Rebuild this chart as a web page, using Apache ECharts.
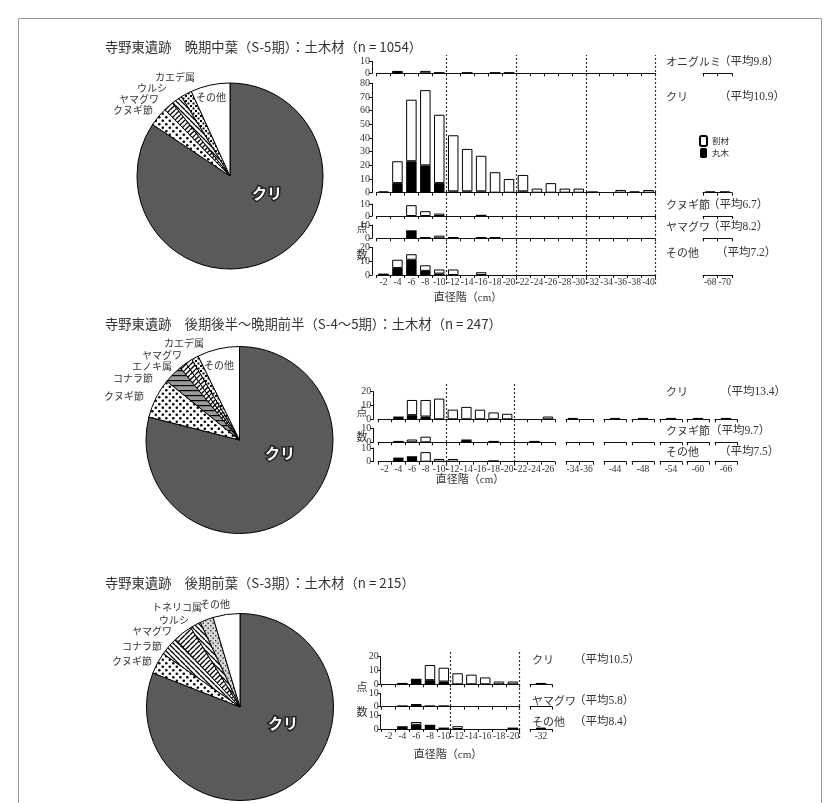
<!DOCTYPE html>
<html><head><meta charset="utf-8">
<script src="https://cdn.jsdelivr.net/npm/echarts@6/dist/echarts.min.js"></script>
<style>html,body{margin:0;padding:0;background:#fff}#c{width:840px;height:803px}</style>
</head><body><div id="c"></div>
<script>
// ================= DATA =================
const TITLES = [
  '寺野東遺跡　晩期中葉（S-5期）：土木材（n = 1054）',
  '寺野東遺跡　後期後半～晩期前半（S-4～5期）：土木材（n = 247）',
  '寺野東遺跡　後期前葉（S-3期）：土木材（n = 215）'
];
const X_TITLE = '直径階（cm）';
const UNIT = ['点', '数'];
const LEGEND_NAMES = ['割材', '丸木'];

// pies (clockwise from 12 o'clock)
const PIE1_NAMES = ['クリ', 'クヌギ節', 'ヤマグワ', 'ウルシ', 'カエデ属', 'その他'];
const PIE1_VALUES = [889, 35, 18, 20, 20, 72];
const PIE2_NAMES = ['クリ', 'クヌギ節', 'コナラ節', 'エノキ属', 'ヤマグワ', 'カエデ属', 'その他'];
const PIE2_VALUES = [195, 17, 8, 3, 3, 3, 18];
const PIE3_NAMES = ['クリ', 'クヌギ節', 'コナラ節', 'ヤマグワ', 'ウルシ', 'トネリコ属', 'その他'];
const PIE3_VALUES = [174, 8, 7, 7, 4, 5, 10];

// panel 1 histograms
const P1_CATS = ['-2','-4','-6','-8','-10','-12','-14','-16','-18','-20','-22','-24','-26','-28','-30','-32','-34','-36','-38','-40','-68','-70'];
const P1_ROWS = ['オニグルミ', 'クリ', 'クヌギ節', 'ヤマグワ', 'その他'];
const P1_MEANS = [9.8, 10.9, 6.7, 8.2, 7.2];
const P1_ONI_SPLIT    = [0,0,0,2,0, 0,0,0,0,0, 0,0,0,0,0, 0,0,0,0,0, 0,0];
const P1_ONI_ROUND    = [0,2,0,0,1, 0,1,0,1,1, 0,0,0,0,0, 0,0,0,0,0, 0,0];
const P1_KURI_SPLIT   = [1,16,45,55,50, 41,31,26,15,10, 12,3,7,3,3, 0,0,2,1,2, 1,1];
const P1_KURI_ROUND   = [0,7,23,20,7, 1,1,1,0,0, 1,0,0,0,0, 1,0,0,0,0, 0,0];
const P1_KUNUGI_SPLIT = [0,0,9,4,2, 0,0,0,0,0, 0,0,0,0,0, 0,0,0,0,0, 0,0];
const P1_KUNUGI_ROUND = [0,0,0,0,0, 0,0,1,0,0, 0,0,0,0,0, 0,0,0,0,0, 0,0];
const P1_YAMA_SPLIT   = [0,0,0,0,2, 0,0,0,0,0, 0,0,0,0,0, 0,0,0,0,0, 0,0];
const P1_YAMA_ROUND   = [0,0,6,1,0, 1,0,1,1,0, 0,0,0,0,0, 0,0,0,0,0, 0,0];
const P1_OTHER_SPLIT  = [0,6,4,4,3, 4,0,2,0,0, 0,0,0,0,0, 0,0,0,0,0, 0,0];
const P1_OTHER_ROUND  = [1,5,11,3,1, 0,0,0,0,0, 0,0,0,0,0, 0,0,0,0,0, 0,0];

// panel 2 histograms
const P2_CATS = ['-2','-4','-6','-8','-10','-12','-14','-16','-18','-20','-22','-24','-26','-34','-36','-44','-48','-54','-60','-66'];
const P2_ROWS = ['クリ', 'クヌギ節', 'その他'];
const P2_MEANS = [13.4, 9.7, 7.5];
const P2_KURI_SPLIT   = [0,0,11,12,15, 7,9,7,5,4, 0,0,2, 1,0, 1,1,1,1,1];
const P2_KURI_ROUND   = [0,2,3,2,0, 0,0,0,0,0, 0,0,0, 0,0, 0,0,0,0,0];
const P2_KUNUGI_SPLIT = [0,0,2,4,0, 0,0,0,0,0, 0,0,0, 0,0, 0,0,0,0,0];
const P2_KUNUGI_ROUND = [0,1,0,0,0, 0,2,0,1,0, 0,1,0, 0,0, 0,0,0,0,0];
const P2_OTHER_SPLIT  = [0,0,0,7,2, 2,0,0,0,0, 0,0,0, 0,0, 0,0,0,0,0];
const P2_OTHER_ROUND  = [0,3,4,0,0, 0,0,0,1,0, 0,0,0, 0,0, 0,0,0,0,0];

// panel 3 histograms
const P3_CATS = ['-2','-4','-6','-8','-10','-12','-14','-16','-18','-20','-32'];
const P3_ROWS = ['クリ', 'ヤマグワ', 'その他'];
const P3_MEANS = [10.5, 5.8, 8.4];
const P3_KURI_SPLIT  = [0,0,0,11,10, 8,7,5,2,2, 0];
const P3_KURI_ROUND  = [0,1,4,3,2, 0,0,0,0,0, 1];
const P3_YAMA_SPLIT  = [0,0,0,0,0, 0,0,0,0,0, 0];
const P3_YAMA_ROUND  = [0,1,2,1,1, 0,0,0,0,0, 0];
const P3_OTHER_SPLIT = [0,0,2,0,0, 2,0,0,0,0, 1];
const P3_OTHER_ROUND = [0,2,3,3,1, 0,0,0,0,1, 0];

// ================= LAYOUT / STYLE =================
const SERIF = "'Liberation Serif','Noto Sans CJK JP',serif";
const JP = "'Noto Sans CJK JP',sans-serif";
const TXT = '#333';

const L1 = {
  title: [105, 47], pie: {c: [230, 176], r: 93},
  labelOff: [[37, 17], [-117, -66], [-111, -77], [-93, -88], [-75, -99], [-34, -79]],
  segs: [{n: 20, left: 376.5, step: 13.95}, {n: 2, left: 703, step: 14.5}],
  rows: [{top: 61.3, zero: 73.3, max: 10}, {top: 83.3, zero: 192.7, max: 80}, {top: 204, zero: 216, max: 10},
         {top: 225, zero: 238.3, max: 10}, {top: 247.3, zero: 275, max: 20}],
  yOffset: 4.5, dash: {at: [5, 10, 15, 20], top: 55, bottom: 284},
  rowText: [[666, 62, 719], [666, 97, 719], [666, 205, 708], [666, 227, 708], [666, 253, 716]],
  unit: [[362, 228], [362, 255]], xTitle: [468, 298]
};
const L2 = {
  title: [105, 324], pie: {c: [239.5, 440], r: 93.5},
  labelOff: [[40.5, 13.3], [-135.5, -44], [-126.5, -61.7], [-107.5, -73.3], [-97.5, -85], [-75.5, -96.7], [-35.5, -75]],
  segs: [{n: 13, left: 378, step: 13.6}, {n: 2, left: 566, step: 13.6}, {n: 1, left: 604, step: 22}, {n: 1, left: 632, step: 22},
         {n: 1, left: 660, step: 22}, {n: 1, left: 687, step: 22}, {n: 1, left: 715, step: 22}],
  rows: [{top: 391.7, zero: 419.3, max: 20}, {top: 428.3, zero: 442.3, max: 10}, {top: 448, zero: 461.7, max: 10}],
  yOffset: 4.7, dash: {at: [5, 10], top: 384, bottom: 470},
  rowText: [[666, 392, 720], [666, 431, 710], [666, 452, 719]],
  unit: [[362, 412], [362, 437]], xTitle: [470, 480]
};
const L3 = {
  title: [105, 583], pie: {c: [240, 707], r: 93.5},
  labelOff: [[43, 16], [-128, -45.3], [-118, -61], [-108, -75.3], [-81, -86.3], [-88, -99.3], [-40, -103]],
  segs: [{n: 10, left: 381.7, step: 13.8}, {n: 1, left: 530, step: 22}],
  rows: [{top: 656.7, zero: 684.3, max: 20}, {top: 693.3, zero: 706.7, max: 10}, {top: 715, zero: 729, max: 10}],
  yOffset: 1, dash: {at: [5, 10], top: 651, bottom: 738},
  rowText: [[532, 660, 574], [532, 701, 574], [532, 722, 574]],
  unit: [[362, 687], [362, 712]], xTitle: [448, 755]
};

// ---- fill patterns ----
function pattern(kind) {
  const c = document.createElement('canvas');
  const s = kind === 'dots' ? 7 : 5;
  c.width = c.height = s;
  const g = c.getContext('2d');
  g.fillStyle = (kind === 'hgray' ? '#9a9a9a' : kind === 'gdots' ? '#d8d8d8' : '#fff');
  g.fillRect(0, 0, s, s);
  g.fillStyle = '#000'; g.strokeStyle = '#000';
  if (kind === 'dots') {
    g.beginPath(); g.arc(1.8, 1.8, 1.3, 0, Math.PI * 2); g.fill();
    g.beginPath(); g.arc(5.3, 5.3, 1.3, 0, Math.PI * 2); g.fill();
  } else if (kind === 'diag' || kind === 'diag2') {
    g.lineWidth = 1.3;
    const d = kind === 'diag';
    for (let k = -1; k <= 1; k++) {
      g.beginPath();
      if (d) { g.moveTo(k * s, s); g.lineTo(k * s + s, 0); }
      else { g.moveTo(k * s, 0); g.lineTo(k * s + s, s); }
      g.stroke();
    }
  } else if (kind === 'check') {
    g.fillRect(0, 0, 2, 2); g.fillRect(2.5, 2.5, 2, 2);
  } else if (kind === 'hgray') {
    g.fillRect(0, 0, s, 1.2);
  } else if (kind === 'gdots') {
    g.fillStyle = '#333'; g.fillRect(0, 0, 1.4, 1.4); g.fillRect(2.5, 2.5, 1.4, 1.4);
  }
  return {image: c, repeat: 'repeat'};
}
const FILL = {
  'クリ': '#5a5a5a', 'クヌギ節': 'dots', 'ヤマグワ': 'diag', 'ウルシ': 'diag2', 'カエデ属': 'check',
  'コナラ節': 'hgray', 'エノキ属': 'diag', 'トネリコ属': 'gdots', 'その他': '#ffffff'
};
const FILL3 = {'コナラ節': 'diag2', 'ヤマグワ': 'diag', 'ウルシ': 'diag2'};
function fillFor(name, override) {
  const f = (override && override[name]) || FILL[name];
  return f.charAt(0) === '#' ? f : pattern(f);
}

// ================= BUILD =================
const grids = [], xAxes = [], yAxes = [], series = [], graphics = [];

graphics.push({type: 'rect', shape: {x: 18.5, y: 18.5, width: 803, height: 820}, style: {fill: 'none', stroke: '#9a9a9a', lineWidth: 1}, silent: true});

function addText(x, y, text, opt) {
  graphics.push({type: 'text', x: x, y: y, silent: true,
    style: Object.assign({text: text, fill: TXT, fontSize: 11, fontFamily: JP, verticalAlign: 'middle', align: 'left'}, opt || {})});
}

function addPie(L, names, values, override) {
  const cx = L.pie.c[0], cy = L.pie.c[1];
  series.push({
    type: 'pie', center: [cx, cy], radius: L.pie.r, startAngle: 90, clockwise: true,
    silent: true, animation: false, avoidLabelOverlap: false,
    itemStyle: {borderColor: '#000', borderWidth: 1},
    label: {show: true, position: 'inside', formatter: '{b}', fontFamily: JP, fontSize: 10, color: '#333'},
    labelLine: {show: false},
    labelLayout: function (p) {
      const o = L.labelOff[p.dataIndex];
      return {x: cx + o[0], y: cy + o[1], align: p.dataIndex === 0 ? 'center' : 'left', verticalAlign: 'middle'};
    },
    data: names.map((n, i) => ({
      name: n, value: values[i],
      itemStyle: {color: fillFor(n, override)},
      label: i === 0 ? {fontSize: 15, fontWeight: 'bold', color: '#fff', textBorderColor: '#222', textBorderWidth: 3} : {}
    }))
  });
}

function addHist(L, cats, rowNames, means, rows) {
  rows.forEach((row, ri) => {
    const R = L.rows[ri];
    const bottom = ri === rows.length - 1;
    let from = 0;
    L.segs.forEach((S, si) => {
      const gi = grids.length;
      grids.push({left: S.left, top: R.top, width: S.n * S.step, height: R.zero - R.top, containLabel: false});
      xAxes.push({
        gridIndex: gi, type: 'category', data: cats.slice(from, from + S.n), boundaryGap: true,
        axisLine: {show: true, onZero: false, lineStyle: {color: '#111', width: 1}},
        axisTick: {show: true, length: 3, lineStyle: {color: '#111', width: 1}},
        axisLabel: {show: bottom, interval: 0, fontSize: 9.5, margin: 3, color: TXT, fontFamily: SERIF},
        splitLine: {show: false}
      });
      yAxes.push({
        gridIndex: gi, type: 'value', min: 0, max: R.max, interval: 10, show: si === 0, offset: L.yOffset,
        axisLine: {show: true, lineStyle: {color: '#111', width: 1}},
        axisTick: {show: true, length: 3, lineStyle: {color: '#111'}},
        axisLabel: {fontSize: 10, margin: 2, color: TXT, fontFamily: SERIF},
        splitLine: {show: false}
      });
      const part = a => a.slice(from, from + S.n).map(v => v === 0 ? '-' : v);
      const bw = Math.min(10.5, S.step * 0.76);
      series.push({type: 'bar', name: LEGEND_NAMES[1], xAxisIndex: gi, yAxisIndex: gi, stack: 'g' + gi,
        barWidth: bw, data: part(row[1]), itemStyle: {color: '#000'}, silent: true, animation: false});
      series.push({type: 'bar', name: LEGEND_NAMES[0], xAxisIndex: gi, yAxisIndex: gi, stack: 'g' + gi,
        barWidth: bw, data: part(row[0]), itemStyle: {color: '#fff', borderColor: '#000', borderWidth: 1}, silent: true, animation: false});
      from += S.n;
    });
    const t = L.rowText[ri];
    addText(t[0], t[1], rowNames[ri], {fontSize: 11});
    addText(t[2], t[1], '（平均' + means[ri] + '）', {fontSize: 11.5, fontFamily: SERIF});
  });
  // dashed division lines
  const S0 = L.segs[0];
  const gi = grids.length;
  grids.push({left: S0.left, top: L.dash.top, width: S0.n * S0.step, height: L.dash.bottom - L.dash.top});
  xAxes.push({gridIndex: gi, type: 'value', min: 0, max: S0.n, show: false});
  yAxes.push({gridIndex: gi, type: 'value', min: 0, max: 1, show: false});
  series.push({type: 'line', xAxisIndex: gi, yAxisIndex: gi, data: [], silent: true, animation: false,
    markLine: {silent: true, symbol: ['none', 'none'], label: {show: false}, animation: false,
      lineStyle: {color: '#333', type: [2, 2], width: 1.2}, data: L.dash.at.map(v => ({xAxis: v}))}});
  addText(L.unit[0][0], L.unit[0][1], UNIT[0], {fontSize: 11, align: 'center'});
  addText(L.unit[1][0], L.unit[1][1], UNIT[1], {fontSize: 11, align: 'center'});
  addText(L.xTitle[0], L.xTitle[1], X_TITLE, {fontSize: 11, align: 'center', fontFamily: SERIF});
}

[L1, L2, L3].forEach((L, i) => addText(L.title[0], L.title[1], TITLES[i], {fontSize: 13.3}));

addPie(L1, PIE1_NAMES, PIE1_VALUES);
addPie(L2, PIE2_NAMES, PIE2_VALUES);
addPie(L3, PIE3_NAMES, PIE3_VALUES, FILL3);

addHist(L1, P1_CATS, P1_ROWS, P1_MEANS, [
  [P1_ONI_SPLIT, P1_ONI_ROUND], [P1_KURI_SPLIT, P1_KURI_ROUND], [P1_KUNUGI_SPLIT, P1_KUNUGI_ROUND],
  [P1_YAMA_SPLIT, P1_YAMA_ROUND], [P1_OTHER_SPLIT, P1_OTHER_ROUND]]);
addHist(L2, P2_CATS, P2_ROWS, P2_MEANS, [
  [P2_KURI_SPLIT, P2_KURI_ROUND], [P2_KUNUGI_SPLIT, P2_KUNUGI_ROUND], [P2_OTHER_SPLIT, P2_OTHER_ROUND]]);
addHist(L3, P3_CATS, P3_ROWS, P3_MEANS, [
  [P3_KURI_SPLIT, P3_KURI_ROUND], [P3_YAMA_SPLIT, P3_YAMA_ROUND], [P3_OTHER_SPLIT, P3_OTHER_ROUND]]);

const chart = echarts.init(document.getElementById('c'), null, {renderer: 'canvas'});
chart.setOption({
  backgroundColor: '#fff',
  animation: false,
  legend: {data: LEGEND_NAMES, orient: 'vertical', left: 699, top: 135, padding: 0, itemWidth: 7, itemHeight: 10, itemGap: 1,
    selectedMode: false, textStyle: {fontSize: 8.5, fontFamily: JP, color: TXT}},
  grid: grids, xAxis: xAxes, yAxis: yAxes, series: series, graphic: graphics
});
</script>
</body></html>
